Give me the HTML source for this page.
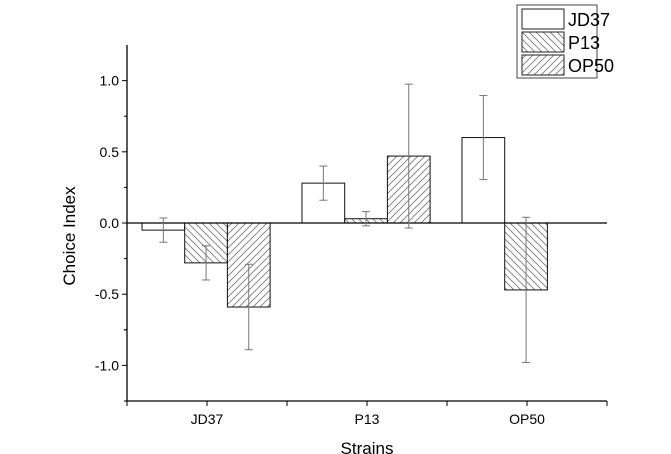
<!DOCTYPE html>
<html><head><meta charset="utf-8"><style>
body{margin:0;background:#fff;}
svg{display:block;font-family:"Liberation Sans",Arial,sans-serif;}
</style></head><body>
<svg id="chart" width="671" height="454" viewBox="0 0 671 454">
<defs>
<pattern id="hatchBack" width="7" height="7" patternUnits="userSpaceOnUse">
<rect width="7" height="7" fill="#fff"/><path d="M-1,-1 L8,8 M-1,6 L1,8 M6,-1 L8,1" stroke="#777" stroke-width="0.8"/>
</pattern>
<pattern id="hatchFwd" width="7" height="7" patternUnits="userSpaceOnUse">
<rect width="7" height="7" fill="#fff"/><path d="M-1,8 L8,-1 M-1,1 L1,-1 M6,8 L8,6" stroke="#777" stroke-width="0.8"/>
</pattern>
</defs>
<g id="plot"></g>
<g id="legend">
<rect x="517" y="5" width="80" height="73" fill="#fff" stroke="#444" stroke-width="1"/>
<g><rect x="522" y="9" width="42" height="20" fill="#fff" stroke="#222"/><text x="568" y="26" font-size="18">JD37</text></g>
<g><rect x="522" y="32" width="42" height="20" fill="url(#hatchBack)" stroke="#222"/><text x="568" y="49" font-size="18">P13</text></g>
<g><rect x="522" y="55" width="42" height="20" fill="url(#hatchFwd)" stroke="#222"/><text x="568" y="72" font-size="18">OP50</text></g>
</g>
</svg>
<script>
const categories = ["JD37","P13","OP50"];
const seriesNames = ["JD37","P13","OP50"];
const jd37Values = [-0.05, 0.28, 0.60];
const p13Values = [-0.28, 0.03, -0.47];
const op50Values = [-0.59, 0.47, 0];
const jd37Errors = [0.085, 0.12, 0.295];
const p13Errors = [0.12, 0.05, 0.51];
const op50Errors = [0.30, 0.505, 0];
const yTicks = [-1.0, -0.5, 0.0, 0.5, 1.0];
const yTickLabels = ["-1.0","-0.5","0.0","0.5","1.0"];

const NS="http://www.w3.org/2000/svg";
const g=document.getElementById('plot');
const X0=127,X1=607,Y0=223,K=142.4,YTOP=45,YBOT=401;
const y=v=>Y0-v*K;
const catW=(X1-X0)/categories.length;
const barW=42.7;
const xBar=(c,s)=>X0+c*catW+15+s*barW;
function el(t,a,name,parent){const e=document.createElementNS(NS,t);for(const k in a)e.setAttribute(k,a[k]);


(parent||g).appendChild(e);return e;}

const fills=["#fff","url(#hatchBack)","url(#hatchFwd)"];
const vals=[jd37Values,p13Values,op50Values];
const errs=[jd37Errors,p13Errors,op50Errors];
for(let c=0;c<categories.length;c++){
  for(let s=0;s<3;s++){
    const v=vals[s][c]; if(v===0&&errs[s][c]===0) continue;
    const x=xBar(c,s);
    el('rect',{x:x,y:Math.min(y(v),Y0),width:barW,height:Math.abs(y(v)-Y0),fill:fills[s],stroke:"#111","stroke-width":1},'bar-'+categories[c].toLowerCase()+'-'+seriesNames[s].toLowerCase());
  }
}
el('line',{x1:X0,x2:X1,y1:Y0,y2:Y0,stroke:"#000","stroke-width":1.3},'zero-line');
for(let c=0;c<categories.length;c++){
  for(let s=0;s<3;s++){
    const v=vals[s][c],e=errs[s][c]; if(e===0) continue;
    const cx=xBar(c,s)+barW/2;
    const eg=el('g',{stroke:"#777","stroke-width":1},'error-bar-'+categories[c].toLowerCase()+'-'+seriesNames[s].toLowerCase());
    el('line',{x1:cx,x2:cx,y1:y(v+e),y2:y(v-e)},'error-stem',eg);
    el('line',{x1:cx-4,x2:cx+4,y1:y(v+e),y2:y(v+e)},'error-cap-top',eg);
    el('line',{x1:cx-4,x2:cx+4,y1:y(v-e),y2:y(v-e)},'error-cap-bottom',eg);
  }
}
// axes
el('line',{x1:X0,x2:X0,y1:YTOP,y2:YBOT+1,stroke:"#000","stroke-width":1.3},'y-axis');
el('line',{x1:X0,x2:X1,y1:YBOT,y2:YBOT,stroke:"#000","stroke-width":1.3},'x-axis');
yTicks.forEach((t,i)=>{
  el('line',{x1:X0-5,x2:X0,y1:y(t),y2:y(t),stroke:"#000"},'y-tick');
  const tx=el('text',{x:X0-8,y:y(t)+5,"text-anchor":"end","font-size":14},'y-tick-label');tx.textContent=yTickLabels[i];
  if(i<yTicks.length-1) el('line',{x1:X0-3,x2:X0,y1:y(t+0.25),y2:y(t+0.25),stroke:"#000"},'y-minor-tick');
});
el('line',{x1:X0-3,x2:X0,y1:y(-1.25+0.0),y2:y(-1.25),stroke:"#000"},'y-minor-tick');
el('line',{x1:X0-3,x2:X0,y1:y(-0.75),y2:y(-0.75),stroke:"#000"},'y-minor-tick');
for(let i=0;i<=categories.length*2;i++){
  const x=X0+i*catW/2;
  el('line',{x1:x,x2:x,y1:YBOT,y2:YBOT+5,stroke:"#000"},'x-tick');
}
categories.forEach((c,i)=>{
  const t=el('text',{x:X0+(i+0.5)*catW,y:YBOT+23,"text-anchor":"middle","font-size":14},'x-tick-label');t.textContent=c;
});
const xt=el('text',{x:367,y:454,"text-anchor":"middle","font-size":17},'x-axis-title');xt.textContent="Strains";
const yt=el('text',{x:0,y:0,"text-anchor":"middle","font-size":17,transform:"translate(75,236) rotate(-90)"},'y-axis-title');yt.textContent="Choice Index";
</script>
</body></html>
